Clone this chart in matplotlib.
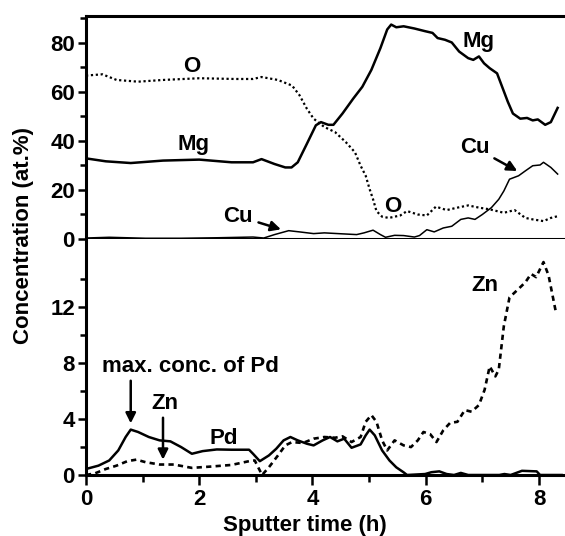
import numpy as np
import matplotlib.pyplot as plt

plt.rcParams['font.family'] = ['Liberation Sans', 'DejaVu Sans']
plt.rcParams['font.weight'] = 'bold'

# upper panel: Mg, O, Cu (at.%)
mg_t = [0, 0.35, 0.79, 1.36, 2.0, 2.57, 2.95, 3.1, 3.33, 3.52, 3.63, 3.74, 3.9, 4.06, 4.15,
        4.28, 4.37, 4.53, 4.72, 4.88, 5.04, 5.2, 5.32, 5.39, 5.48, 5.61, 5.8, 5.99, 6.12,
        6.21, 6.34, 6.46, 6.59, 6.75, 6.84, 6.94, 7.03, 7.13, 7.26, 7.35, 7.45, 7.54, 7.67,
        7.79, 7.89, 7.98, 8.11, 8.21, 8.33]
mg_v = [32.9, 31.7, 31.0, 32.0, 32.4, 31.3, 31.3, 32.6, 30.6, 29.2, 29.2, 31.3, 38.8, 46.4, 47.7,
        46.6, 46.6, 51.2, 57.3, 62.1, 69.0, 77.9, 85.5, 87.5, 86.4, 86.8, 85.9, 84.8, 84.1,
        82.0, 81.3, 80.2, 76.5, 73.8, 73.1, 74.5, 71.7, 69.7, 67.6, 62.1, 56.0, 51.2, 49.1,
        49.4, 48.4, 48.8, 46.6, 47.7, 53.5]

o_t = [0, 0.29, 0.54, 0.92, 1.36, 2.0, 2.63, 2.95, 3.1, 3.39, 3.64, 3.77, 3.9, 4.02, 4.21,
       4.4, 4.59, 4.75, 4.85, 4.94, 5.01, 5.07, 5.13, 5.23, 5.35, 5.55, 5.67, 5.86, 6.02,
       6.18, 6.37, 6.56, 6.75, 6.94, 7.13, 7.38, 7.57, 7.76, 7.89, 8.08, 8.21, 8.33]
o_v = [66.7, 67.2, 64.9, 64.2, 64.9, 65.6, 65.3, 65.3, 66.1, 64.9, 62.6, 58.7, 53.2, 49.1, 45.7,
       43.6, 39.5, 35.4, 29.9, 25.8, 20.3, 16.2, 11.4, 9.1, 8.6, 9.6, 11.4, 10.0, 9.6,
       13.2, 11.8, 12.8, 13.7, 12.8, 12.1, 10.7, 11.8, 8.6, 8.0, 7.3, 8.6, 9.3]

cu_t = [0, 0.41, 1.05, 1.68, 2.31, 2.95, 3.14, 3.33, 3.58, 3.77, 4.02, 4.21, 4.53, 4.78, 4.91,
        5.07, 5.2, 5.29, 5.45, 5.61, 5.8, 5.89, 6.02, 6.15, 6.31, 6.46, 6.62, 6.75, 6.87,
        7.0, 7.16, 7.29, 7.38, 7.48, 7.64, 7.76, 7.89, 8.02, 8.08, 8.21, 8.33]
cu_v = [0.4, 0.7, 0.3, 0.3, 0.5, 0.8, 0.4, 1.8, 3.4, 2.9, 2.2, 2.5, 2.1, 1.8, 2.5,
        3.6, 1.8, 0.7, 1.5, 1.4, 0.8, 1.4, 3.8, 2.9, 4.5, 5.2, 8.0, 8.6, 8.0,
        10.0, 12.8, 16.2, 19.6, 24.4, 25.8, 27.8, 29.9, 30.2, 31.3, 29.2, 26.5]

# lower panel: Pd, Zn (at.%)
pd_t = [0, 0.22, 0.41, 0.57, 0.7, 0.79, 0.92, 1.11, 1.3, 1.49, 1.68, 1.87, 2.06, 2.31, 2.57,
        2.88, 2.95, 3.07, 3.23, 3.36, 3.49, 3.61, 3.74, 3.9, 4.02, 4.18, 4.31, 4.44, 4.56,
        4.69, 4.85, 4.94, 5.01, 5.1, 5.23, 5.36, 5.48, 5.61, 5.67, 5.99, 6.1, 6.24, 6.37,
        6.5, 6.62, 6.75, 7.3, 7.39, 7.5, 7.7, 7.96, 8.02, 8.4]
pd_v = [0.43, 0.67, 1.04, 1.76, 2.72, 3.25, 3.08, 2.72, 2.48, 2.41, 2.0, 1.52, 1.71, 1.83, 1.81,
        1.81, 1.52, 0.99, 1.4, 1.88, 2.48, 2.72, 2.48, 2.24, 2.12, 2.48, 2.72, 2.41, 2.6,
        1.95, 2.19, 2.84, 3.25, 2.84, 1.76, 1.04, 0.55, 0.19, 0.0, 0.07, 0.2, 0.26, 0.07,
        0.0, 0.15, 0.0, 0.0, 0.07, 0.0, 0.3, 0.26, 0.0, 0.0]

zn_t = [0, 0.16, 0.35, 0.54, 0.73, 0.89, 1.05, 1.3, 1.55, 1.87, 2.19, 2.57, 2.88, 2.98, 3.11,
        3.23, 3.39, 3.52, 3.64, 3.83, 4.02, 4.21, 4.4, 4.53, 4.69, 4.85, 4.94, 5.04, 5.13,
        5.23, 5.32, 5.45, 5.61, 5.74, 5.86, 5.96, 6.08, 6.19, 6.31, 6.43, 6.56, 6.69, 6.81,
        6.94, 7.04, 7.13, 7.23, 7.29, 7.38, 7.48, 7.64, 7.76, 7.86, 7.95, 8.08, 8.17, 8.3]
zn_v = [0, 0.12, 0.43, 0.67, 0.99, 1.1, 0.92, 0.75, 0.75, 0.51, 0.6, 0.72, 0.99, 1.04, 0.0,
        0.55, 1.4, 2.12, 2.36, 2.29, 2.6, 2.72, 2.67, 2.77, 2.36, 2.72, 3.81, 4.29, 3.81,
        2.48, 1.76, 2.48, 2.12, 2.0, 2.48, 3.08, 2.92, 2.36, 3.2, 3.73, 3.81, 4.65, 4.53,
        5.01, 6.1, 7.78, 7.06, 7.54, 10.67, 12.72, 13.33, 13.8, 14.4, 14.17, 15.25, 14.29, 11.64]

W, H = 565, 536
FS = 16
fig = plt.figure(figsize=(W / 100, H / 100), dpi=100)
left = 86 / W
ax1 = fig.add_axes([left, 1 - 239 / H, 1.0 - left, (239 - 16) / H])
ax2 = fig.add_axes([left, 1 - 475 / H, 1.0 - left, (475 - 239) / H])

ax1.plot(mg_t, mg_v, color='black', lw=1.8)
ax1.plot(o_t, o_v, color='black', lw=1.6, ls=(0, (1, 1.2)))
ax1.plot(cu_t, cu_v, color='black', lw=1.1)

ax2.plot(pd_t, pd_v, color='black', lw=1.8)
ax2.plot(zn_t, zn_v, color='black', lw=1.9, ls=(0, (2.0, 1.6)))

for ax in (ax1, ax2):
    ax.set_xlim(0, 8.46)
    ax.spines['right'].set_visible(False)
    for s in ('left', 'bottom', 'top'):
        ax.spines[s].set_linewidth(2.2)
    ax.tick_params(width=1.8, length=6, labelsize=FS, direction='out', pad=2)
    ax.tick_params(which='minor', width=1.8, length=4, direction='out')

ax1.set_ylim(0, 91)
ax1.set_yticks([0, 20, 40, 60, 80])
ax1.set_yticks([10, 30, 50, 70, 90], minor=True)
ax1.set_xticks(np.arange(0, 9, 1))
ax1.tick_params(axis='x', labelbottom=False, length=7)

ax2.spines['top'].set_visible(False)
ax2.set_ylim(0, 16.9)
ax2.set_yticks([0, 4, 8, 12])
ax2.set_yticks([2, 6, 10, 14], minor=True)
ax2.set_xticks([0, 2, 4, 6, 8])
ax2.set_xticks([1, 3, 5, 7], minor=True)
ax2.tick_params(axis='x', length=7, pad=3)
ax2.tick_params(axis='x', which='minor', length=5)
ax2.set_xlabel('Sputter time (h)', fontsize=FS, fontweight='bold')
ax2.xaxis.set_label_coords(3.87 / 8.46, -0.168)

fig.text(24 / W, 1 - 236 / H, 'Concentration (at.%)', rotation=90, fontsize=FS,
         fontweight='bold', ha='center', va='center')

tk = dict(fontsize=FS, fontweight='bold', ha='center', va='center')
ax1.text(1.87, 70.4, 'O', **tk)
ax1.text(1.9, 38.5, 'Mg', **tk)
ax1.text(6.94, 80.7, 'Mg', **tk)
ax1.text(5.42, 13.2, 'O', **tk)
arr = dict(arrowstyle='-|>', color='black', lw=1.8, mutation_scale=15)
ax1.annotate('Cu', xy=(7.66, 27.2), xytext=(6.86, 37.4), arrowprops=arr, **tk)
ax1.annotate('Cu', xy=(3.49, 3.6), xytext=(2.69, 9.3), arrowprops=arr, **tk)

ax2.text(2.44, 2.6, 'Pd', **tk)
ax2.text(7.04, 13.57, 'Zn', **tk)
ax2.text(1.84, 7.78, 'max. conc. of Pd', **tk)
ax2.annotate('', xy=(0.79, 3.5), xytext=(0.79, 6.95), arrowprops=arr)
ax2.text(1.39, 5.13, 'Zn', **tk)
ax2.annotate('', xy=(1.36, 0.9), xytext=(1.36, 4.3), arrowprops=arr)

plt.savefig('out.png', dpi=100)
